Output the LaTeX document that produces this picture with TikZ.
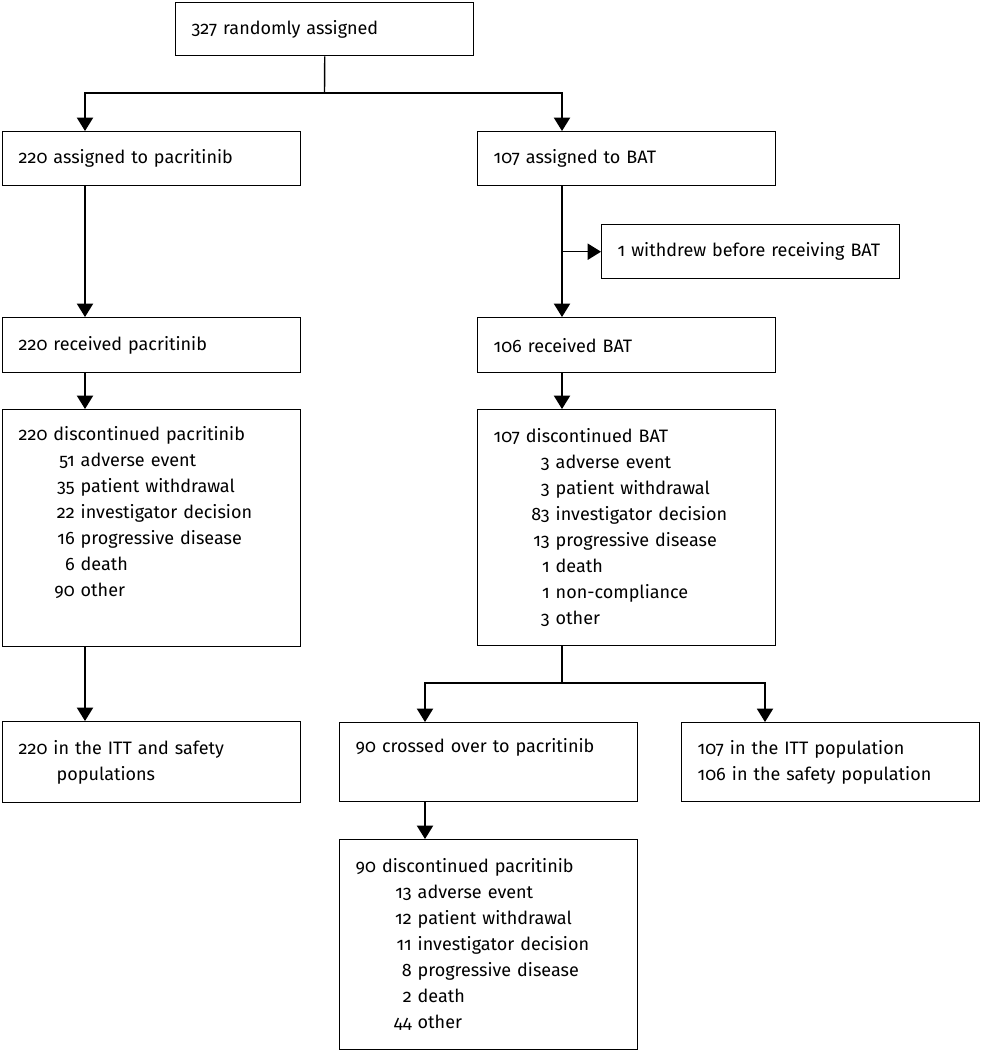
\documentclass[tikz,border=0pt]{standalone}
\usepackage{fontspec}
\setmainfont{Fira Sans}[Numbers=OldStyle]
\usetikzlibrary{arrows.meta}
\newcommand{\reason}[2]{\makebox[1.4cm][r]{#1} #2}

\begin{document}
\begin{tikzpicture}[x=0.025cm, y=-0.025cm,
  box/.style={draw, line width=1pt, anchor=north west, align=left,
    text width=6.65cm, inner xsep=0.4cm, inner ysep=0pt,
    font=\fontsize{12.8}{18.5}\selectfont},
  link/.style={line width=1pt},
  arr/.style={link, -{Triangle[width=11.5pt,length=9.5pt]}}]
\useasboundingbox (0,0) rectangle (980,1050);

\node[box, minimum height=1.325cm] (b1) at (175,2) {327 randomly assigned};
\node[box, minimum height=1.35cm] (b2) at (2,131) {220 assigned to pacritinib};
\node[box, minimum height=1.35cm] (b3) at (477,131) {107 assigned to BAT};
\node[box, minimum height=1.35cm] (b4) at (601,224) {1 withdrew before receiving BAT};
\node[box, minimum height=1.375cm] (b5) at (2,317) {220 received pacritinib};
\node[box, minimum height=1.375cm] (b6) at (477,317) {106 received BAT};
\node[box, minimum height=5.925cm] (b7) at (2,409) {220 discontinued pacritinib\\
  \reason{51}{adverse event}\\
  \reason{35}{patient withdrawal}\\
  \reason{22}{investigator decision}\\
  \reason{16}{progressive disease}\\
  \reason{6}{death}\\
  \reason{90}{other}\\
  \strut};
\node[box, minimum height=5.9cm] (b8) at (477,409) {107 discontinued BAT\\
  \reason{3}{adverse event}\\
  \reason{3}{patient withdrawal}\\
  \reason{83}{investigator decision}\\
  \reason{13}{progressive disease}\\
  \reason{1}{death}\\
  \reason{1}{non-compliance}\\
  \reason{3}{other}};
\node[box, minimum height=2.025cm] (b9) at (2,721) {220 in the ITT and safety\\
  \hspace*{0.95cm}populations};
\node[box, minimum height=1.975cm] (b10) at (339,722) {90 crossed over to pacritinib\\\strut};
\node[box, minimum height=1.975cm] (b11) at (681,722) {107 in the ITT population\\
  106 in the safety population};
\node[box, minimum height=5.25cm] (b12) at (339,839) {90 discontinued pacritinib\\
  \reason{13}{adverse event}\\
  \reason{12}{patient withdrawal}\\
  \reason{11}{investigator decision}\\
  \reason{8}{progressive disease}\\
  \reason{2}{death}\\
  \reason{44}{other}};

\coordinate (cl) at (85,0);
\coordinate (cr) at (562,0);
\coordinate (cx) at (425,0);
\coordinate (cy) at (765,0);
\coordinate (j1) at (324.5,93);
\coordinate (j2) at (562,683);

\draw[link] (b1.south) -- (j1);
\draw[arr] (j1) -| (b2.north -| cl);
\draw[arr] (j1) -| (b3.north -| cr);
\draw[arr] (b2.south -| cl) -- (b5.north -| cl);
\draw[arr] (b5.south -| cl) -- (b7.north -| cl);
\draw[arr] (b7.south -| cl) -- (b9.north -| cl);
\draw[arr] (b3.south -| cr) -- (b6.north -| cr);
\draw[arr] (b4.west -| cr) -- (b4.west);
\draw[arr] (b6.south -| cr) -- (b8.north -| cr);
\draw[link] (b8.south -| cr) -- (j2);
\draw[arr] (j2) -| (b10.north -| cx);
\draw[arr] (j2) -| (b11.north -| cy);
\draw[arr] (b10.south -| cx) -- (b12.north -| cx);
\end{tikzpicture}
\end{document}
